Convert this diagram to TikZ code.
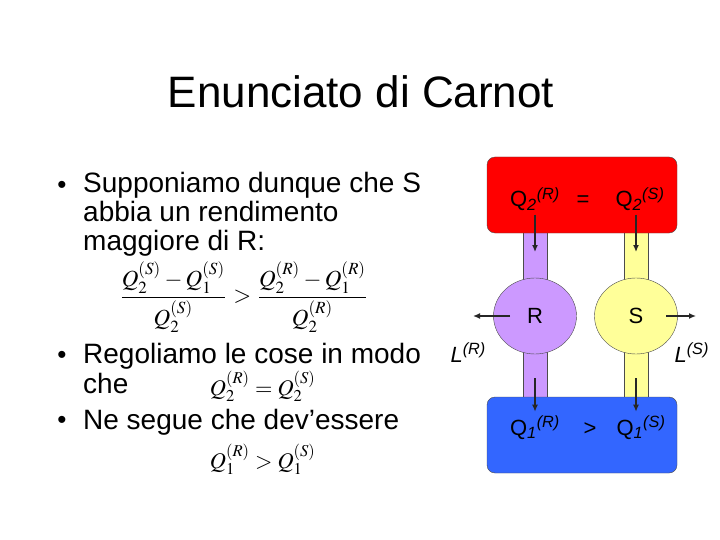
\documentclass[tikz,border=0pt]{standalone}
\usepackage{mathptmx}
\usepackage[no-math]{fontspec}
\setmainfont{Liberation Sans}
\usepackage{amsmath}
\usepackage{graphicx}
\usetikzlibrary{arrows.meta,positioning,shapes.geometric}
\definecolor{hotRed}{RGB}{255,0,0}
\definecolor{coldBlue}{RGB}{51,102,255}
\definecolor{engLilac}{RGB}{204,153,255}
\definecolor{engYellow}{RGB}{255,255,153}

\begin{document}
\begin{tikzpicture}[
            x=1pt, y=-1pt,
            reservoir/.style={rectangle, rounded corners=8pt, draw=black!70, minimum width=190pt, minimum height=76pt},
            pipe/.style={rectangle, draw=black!70, minimum width=24pt, minimum height=190pt},
            engine/.style={ellipse, draw=black!70, minimum width=83pt, minimum height=76pt, font=\fontsize{22}{26}\selectfont},
            lbl/.style={font=\fontsize{22}{26}\selectfont, anchor=base},
            bodytxt/.style={font=\fontsize{28}{30}\selectfont, anchor=base west, inner sep=0pt},
            bullet/.style={font=\fontsize{26}{26}\selectfont, inner sep=0pt, anchor=base},
            flow/.style={-{Latex[length=7pt,width=6pt]}, line width=1.3pt, black!85}
        ]
            \useasboundingbox (0,0) rectangle (720,540);
            \fill[white] (0,0) rectangle (720,540);

            \node[font=\fontsize{44}{50}\selectfont, anchor=base] (title) at (361,108) {Enunciato di Carnot};

            % left column
            \node[bullet] (dot1) at (62,194) {•};
            \node[bodytxt] (txt1a) at (83,193) {Supponiamo dunque che S};
            \node[bodytxt] (txt1b) at (83,222) {abbia un rendimento};
            \node[bodytxt] (txt1c) at (83,251) {maggiore di R:};
            \node (ineq) at (244,297) {\resizebox{250pt}{!}{$\dfrac{Q_2^{(S)}-Q_1^{(S)}}{Q_2^{(S)}}>\dfrac{Q_2^{(R)}-Q_1^{(R)}}{Q_2^{(R)}}$}};

            \node[bullet] (dot2) at (62,363) {•};
            \node[bodytxt] (txt2a) at (83,363) {Regoliamo le cose in modo};
            \node[bodytxt] (txt2b) at (83,393) {che};
            \node[anchor=base, inner sep=0pt] (eqQ2) at (263,395) {\resizebox{106pt}{!}{$Q_2^{(R)}=Q_2^{(S)}$}};
            \node[bullet] (dot3) at (62,428) {•};
            \node[bodytxt] (txt3) at (83,429) {Ne segue che dev’essere};
            \node[anchor=base, inner sep=0pt] (gtQ1) at (263,468) {\resizebox{106pt}{!}{$Q_1^{(R)}>Q_1^{(S)}$}};

            % engines
            \node[pipe, fill=engLilac] (pipeR) at (535,315) {};
            \node[pipe, fill=engYellow] (pipeS) at (636,315) {};
            \node[reservoir, fill=hotRed] (hot) at (582,195) {};
            \node[reservoir, fill=coldBlue] (cold) at (582,435) {};
            \node[engine, fill=engLilac] (engR) at (535,316) {R};
            \node[engine, fill=engYellow] (engS) at (636,316) {S};

            \node[lbl] (q2R) at (535,207) {Q\textsubscript{\itshape 2}\textsuperscript{\itshape (R)}};
            \node[lbl] (eqsign) at (583,207) {=};
            \node[lbl] (q2S) at (640,207) {Q\textsubscript{\itshape 2}\textsuperscript{\itshape (S)}};
            \node[lbl] (q1R) at (535,435) {Q\textsubscript{\itshape 1}\textsuperscript{\itshape (R)}};
            \node[lbl] (gtsign) at (590,435) {>};
            \node[lbl] (q1S) at (641,435) {Q\textsubscript{\itshape 1}\textsuperscript{\itshape (S)}};
            \node[lbl, anchor=base west] (LR) at (447,362) {\itshape L\textsuperscript{(R)}};
            \node[lbl, anchor=base west] (LS) at (671,362) {\itshape L\textsuperscript{(S)}};

            \coordinate (inR) at (535,252);
            \coordinate (inS) at (636,252);
            \coordinate (outR) at (535,378);
            \coordinate (outS) at (636,378);
            \coordinate (workR) at (473,316);
            \coordinate (workS) at (696,316);

            \draw[flow] (q2R.south -| inR) -- (inR);
            \draw[flow] (q2S.south -| inS) -- (inS);
            \draw[flow] (outR) -- (q1R.north -| outR);
            \draw[flow] (outS) -- (q1S.north -| outS);
            \draw[flow] ([xshift=-25pt]engR.center) -- (workR);
            \draw[flow] ([xshift=30pt]engS.center) -- (workS);
        \end{tikzpicture}
\end{document}
